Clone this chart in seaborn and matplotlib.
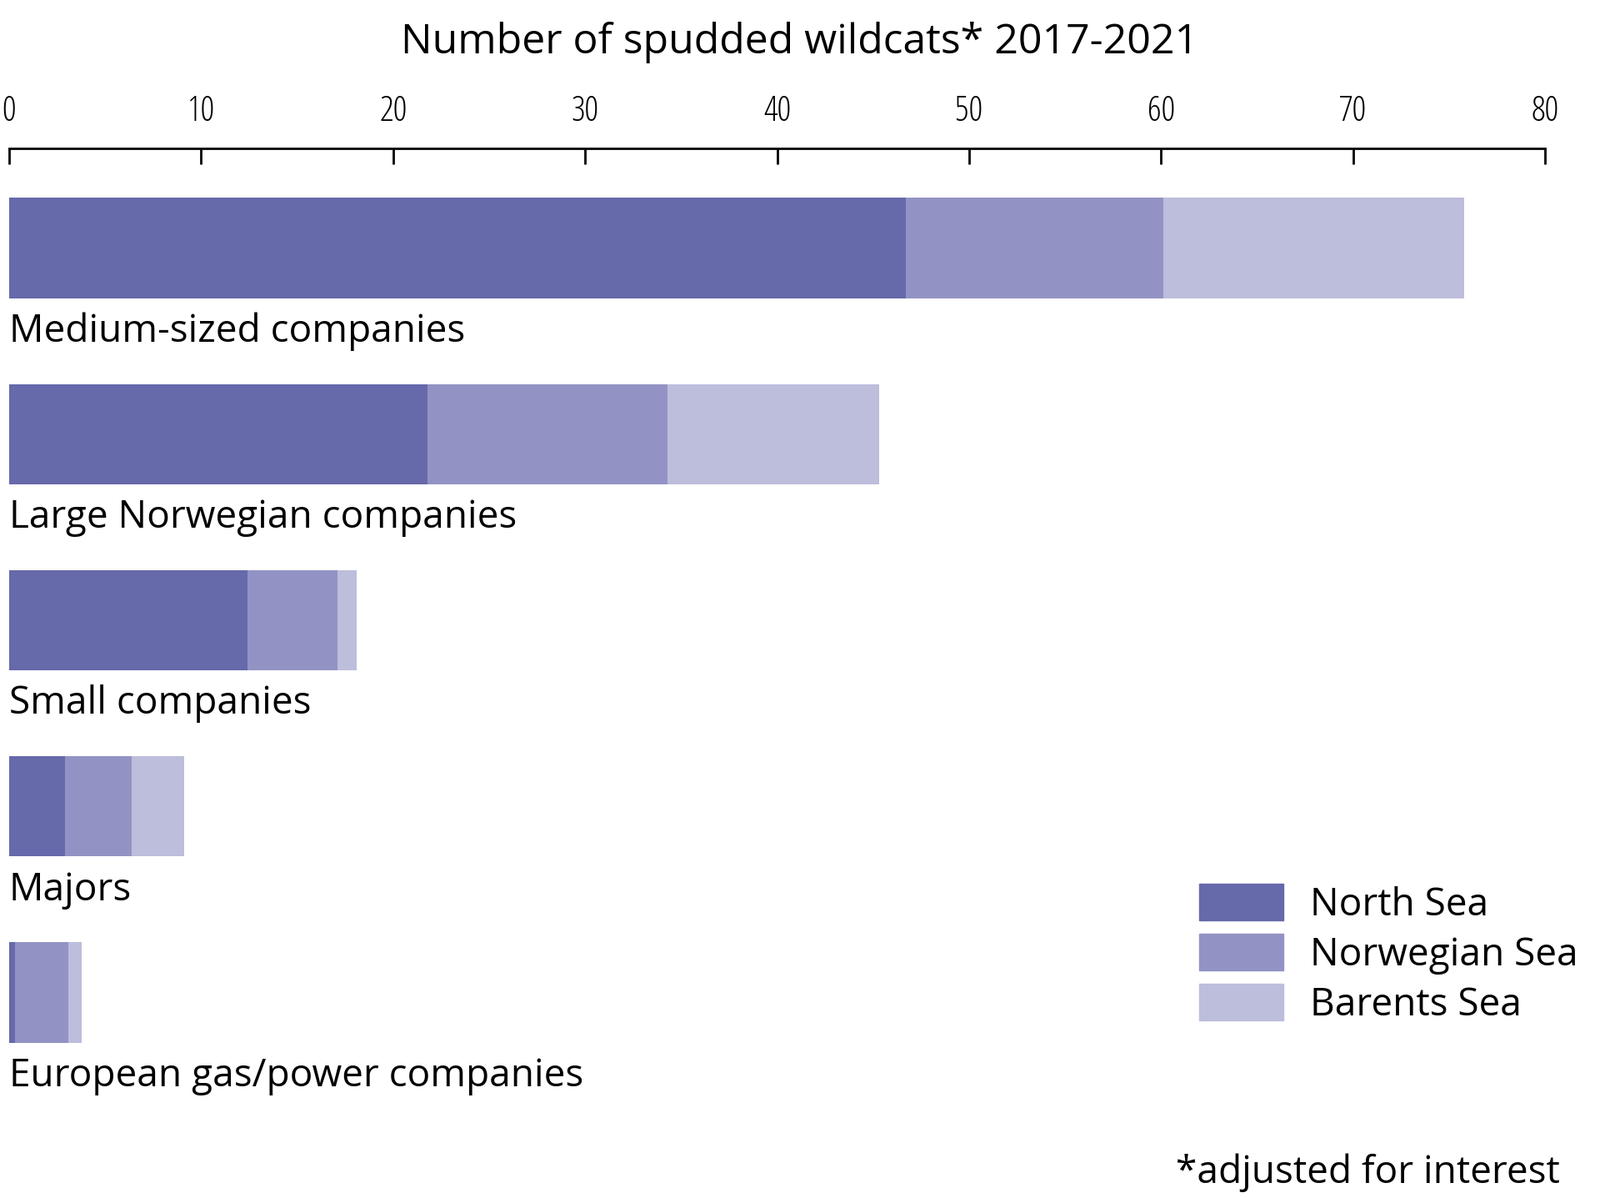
import matplotlib
matplotlib.use("Agg")
import matplotlib.pyplot as plt
import seaborn as sns
import numpy as np
import pandas as pd
from matplotlib.patches import Patch

categories = ["Medium-sized companies", "Large Norwegian companies", "Small companies",
              "Majors", "European gas/power companies"]
north_sea = [46.7, 21.8, 12.4, 2.9, 0.3]
norwegian_sea = [13.4, 12.5, 4.7, 3.5, 2.8]
barents_sea = [15.7, 11.0, 1.0, 2.7, 0.7]
series = ["North Sea", "Norwegian Sea", "Barents Sea"]
colors = ["#6669aa", "#9293c4", "#bdbddc"]

plt.rcParams["font.family"] = "Open Sans"

df = pd.DataFrame({"cat": categories, "ns": north_sea, "nw": norwegian_sea, "bs": barents_sea})
df["c1"] = df["ns"]
df["c2"] = df["ns"] + df["nw"]
df["c3"] = df["c2"] + df["bs"]

fig = plt.figure(figsize=(19.2, 14.37), dpi=100)
ax = fig.add_axes([0.0057, 0.0614, 0.96, 0.815])

for col, c in zip(["c3", "c2", "c1"], colors[::-1]):
    sns.barplot(data=df, x=col, y="cat", color=c, width=0.54, orient="h", ax=ax,
                saturation=1, linewidth=0)

for i, name in enumerate(categories):
    ax.text(0, i + 0.45, name, fontsize=33, va="center", ha="left")

ax.set_xlim(0, 80)
ax.set_ylim(4.71, -0.538)
ax.xaxis.tick_top()
ax.set_xticks(range(0, 81, 10))
ax.tick_params(axis="x", labelsize=30, length=14, width=2, direction="in", pad=16)
for t in ax.get_xticklabels():
    t.set_fontstretch("condensed")
ax.set_yticks([])
ax.set_xlabel("")
ax.set_ylabel("")
for s in ["right", "bottom", "left"]:
    ax.spines[s].set_visible(False)
ax.spines["top"].set_linewidth(2)

fig.text(0.5, 0.982, "Number of spudded wildcats* 2017-2021", fontsize=36, ha="center", va="top")

handles = [Patch(color=c, label=s) for c, s in zip(colors, series)]
fig.legend(handles=handles, loc="upper left", bbox_to_anchor=(0.74, 0.275), frameon=False,
           fontsize=33, handlelength=2.2, handleheight=1.1, labelspacing=0.25, handletextpad=0.7,
           borderaxespad=0)

fig.text(0.975, 0.005, "*adjusted for interest", fontsize=33, ha="right", va="bottom")

fig.savefig("out.png", dpi=100)
